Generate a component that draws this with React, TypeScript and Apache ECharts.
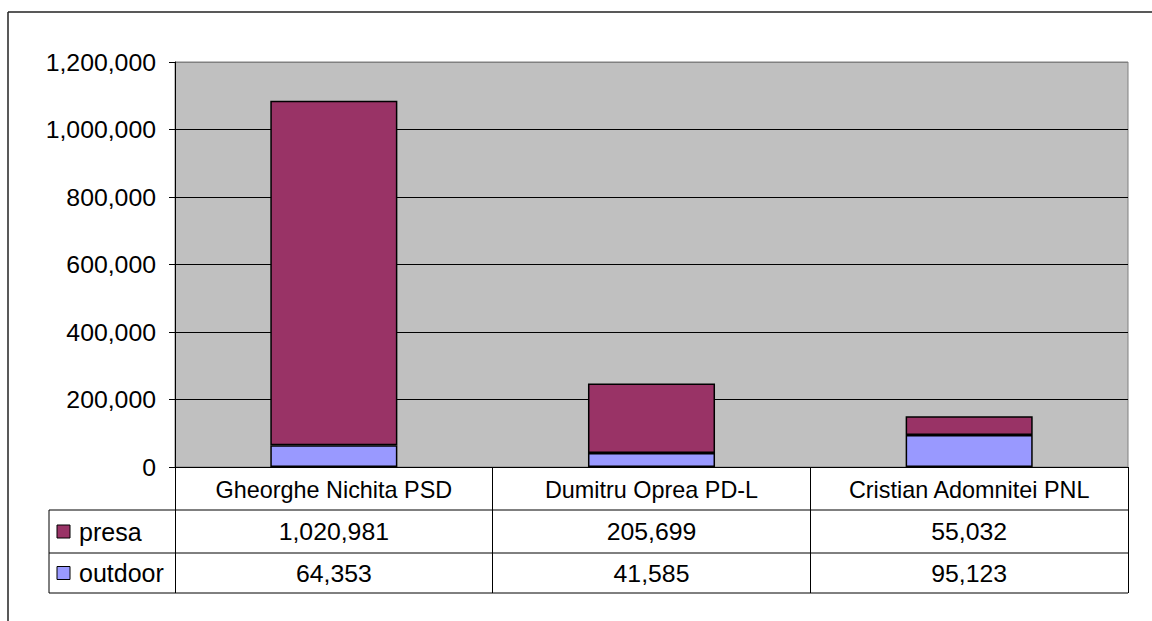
import React, { useEffect, useRef } from "react";
import * as echarts from "echarts";

const categories = ["Gheorghe Nichita PSD", "Dumitru Oprea PD-L", "Cristian Adomnitei PNL"];
const presaValues = [1020981, 205699, 55032];
const outdoorValues = [64353, 41585, 95123];
const seriesNames = ["presa", "outdoor"];
const seriesColors = ["#993366", "#9999FF"];
const yMin = 0;
const yMax = 1200000;
const yInterval = 200000;

const FONT = "'Liberation Sans', Arial, sans-serif";
const FS_NUM = 24.8;
const FS_CAT = 23.4;
const FS_LEG = 25;
const fmt = (v: number) => v.toLocaleString("en-US");

export default function App() {
  const ref = useRef<HTMLDivElement>(null);
  useEffect(() => {
    if (!ref.current) return;
    const chart = echarts.init(ref.current, undefined, { renderer: "svg" });
    const option: any = {
      animation: false,
      backgroundColor: "#ffffff",
      textStyle: { fontFamily: FONT },
      grid: {
        left: 175,
        right: 24,
        top: 62,
        bottom: 154,
        show: true,
        backgroundColor: "#C0C0C0",
        borderColor: "#808080",
        borderWidth: 1,
      },
      xAxis: {
        type: "category",
        data: categories,
        axisLine: { show: true, lineStyle: { color: "#000", width: 1 } },
        axisTick: { show: true, inside: false, length: 126, alignWithLabel: false, lineStyle: { color: "#000", width: 1 } },
        axisLabel: { color: "#000", fontSize: FS_CAT, fontFamily: FONT, margin: 11, interval: 0 },
      },
      yAxis: {
        type: "value",
        min: yMin,
        max: yMax,
        interval: yInterval,
        axisLine: { show: true, lineStyle: { color: "#000", width: 1 } },
        axisTick: { show: true, length: 6, lineStyle: { color: "#000" } },
        axisLabel: { color: "#000", fontSize: FS_NUM, fontFamily: FONT, margin: 19, formatter: (v: number) => fmt(v) },
        splitLine: { show: true, lineStyle: { color: ["#000", "#000", "#000", "#000", "#000", "#000", "#808080"], width: 1 } },
      },
      series: [
        {
          name: seriesNames[1],
          type: "bar",
          stack: "total",
          data: outdoorValues,
          barWidth: "40%",
          itemStyle: { color: seriesColors[1], borderColor: "#000", borderWidth: 1.5 },
        },
        {
          name: seriesNames[0],
          type: "bar",
          stack: "total",
          data: presaValues,
          barWidth: "40%",
          itemStyle: { color: seriesColors[0], borderColor: "#000", borderWidth: 1.5 },
        },
      ],
    };
    chart.setOption(option);

    const zeroY = chart.convertToPixel({ yAxisIndex: 0 }, 0) as number;
    const xs = categories.map((_, i) => chart.convertToPixel({ xAxisIndex: 0 }, i) as number);
    const band = xs[1] - xs[0];
    const right = xs[xs.length - 1] + band / 2;
    const tableLeft = 49;
    const rowTops = [zeroY + 43, zeroY + 86];
    const rowBottom = zeroY + 126;
    const rows = [
      { name: seriesNames[0], color: seriesColors[0], values: presaValues },
      { name: seriesNames[1], color: seriesColors[1], values: outdoorValues },
    ];
    const graphic: any[] = [];
    graphic.push({ type: "line", shape: { x1: 8, y1: 12, x2: 1152, y2: 12 }, style: { stroke: "#222", lineWidth: 1.5 } });
    graphic.push({ type: "line", shape: { x1: 8, y1: 12, x2: 8, y2: 621 }, style: { stroke: "#222", lineWidth: 1.5 } });
    [...rowTops, rowBottom].forEach((y) => {
      graphic.push({ type: "line", shape: { x1: tableLeft, y1: y, x2: right, y2: y }, style: { stroke: "#000", lineWidth: 1 } });
    });
    graphic.push({ type: "line", shape: { x1: tableLeft, y1: rowTops[0], x2: tableLeft, y2: rowBottom }, style: { stroke: "#000", lineWidth: 1 } });
    rows.forEach((r, ri) => {
      const top = rowTops[ri];
      const bottom = ri + 1 < rowTops.length ? rowTops[ri + 1] : rowBottom;
      const cy = (top + bottom) / 2;
      graphic.push({ type: "rect", shape: { x: 57, y: cy - 6.5, width: 13, height: 13 }, style: { fill: r.color, stroke: "#000", lineWidth: 1 } });
      graphic.push({ type: "text", x: 79, y: cy, style: { text: r.name, font: `${FS_LEG}px ${FONT}`, fill: "#000", verticalAlign: "middle", align: "left" } });
      r.values.forEach((v, i) => {
        graphic.push({ type: "text", x: xs[i], y: cy, style: { text: fmt(v), font: `${FS_NUM}px ${FONT}`, fill: "#000", verticalAlign: "middle", align: "center" } });
      });
    });
    chart.setOption({ graphic });
    return () => chart.dispose();
  }, []);
  return <div ref={ref} style={{ position: "fixed", left: 0, top: 0, width: 1152, height: 621 }} />;
}
